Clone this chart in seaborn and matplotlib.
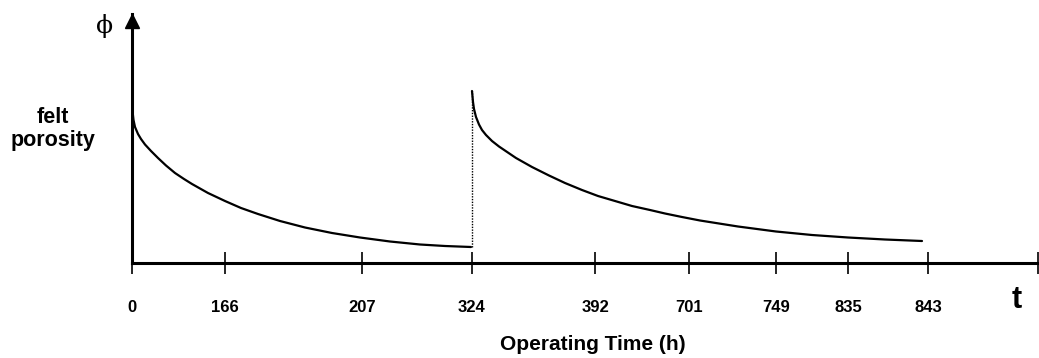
import matplotlib
matplotlib.use("Agg")
import matplotlib.pyplot as plt
import seaborn as sns
import pandas as pd

sns.set_theme(style="white")
plt.rcParams["font.family"] = ["Liberation Sans", "DejaVu Sans"]
plt.rcParams["text.color"] = "black"
plt.rcParams["xtick.color"] = "black"

# Schematic time axis: tick positions along the axis and the hours they stand for
tick_pos = [0, 93, 230, 340, 463, 557, 644, 716, 796]
tick_labels = ["0", "166", "207", "324", "392", "701", "749", "835", "843"]
axis_end = 906
phi_top = 249

# First felt run: porosity falls from the fresh-felt value
run1_t = [0.5, 1.5, 3, 6, 9, 13, 19, 26, 34, 43, 52, 60, 76, 93, 109, 126, 148, 173,
          200, 228, 258, 288, 313, 339]
run1_phi = [152, 143, 136, 129, 124, 118.5, 112, 105, 97.5, 90, 84, 79, 70, 62, 55, 49, 42, 35.5,
            30, 25.5, 21.5, 18.5, 17, 16]

# Second run after the felt change at 324 h
run2_t = [340, 341, 342, 344, 347, 350, 354, 360, 367, 384, 400, 417, 433, 450, 466, 483, 500, 518,
          533, 550, 568, 606, 644, 680, 716, 753, 790]
run2_phi = [172, 161, 154, 146, 138.5, 133, 128, 122, 116.5, 105, 96, 87.5, 80, 73, 67, 62, 57, 53,
            49.5, 46, 42.5, 36.5, 31.5, 28, 25.5, 23.5, 22]

df1 = pd.DataFrame({"t": run1_t, "phi": run1_phi})
df2 = pd.DataFrame({"t": run2_t, "phi": run2_phi})

fig = plt.figure(figsize=(10.39, 3.58), dpi=100)
ax = fig.add_axes([132 / 1039, 95 / 358, 906 / 1039, 249 / 358])

sns.lineplot(data=df1, x="t", y="phi", ax=ax, color="black", lw=1.6, sort=False)
sns.lineplot(data=df2, x="t", y="phi", ax=ax, color="black", lw=1.6, sort=False)

# Felt replacement marker
ax.plot([run2_t[0], run2_t[0]], [run1_phi[-1], run2_phi[0]], color="black", lw=1.0, ls=(0, (1, 1)))

ax.set_xlim(0, axis_end)
ax.set_ylim(0, phi_top)

for s in ["top", "right"]:
    ax.spines[s].set_visible(False)
for s in ["left", "bottom"]:
    ax.spines[s].set_linewidth(2.2)
    ax.spines[s].set_color("black")

ax.set_yticks([])
ax.set_xticks(tick_pos + [axis_end])
ax.set_xticklabels(tick_labels + [""], fontsize=12, fontweight="bold")
ax.tick_params(axis="x", bottom=True, direction="inout", length=16, width=1.2,
               color="black", labelcolor="black", pad=19)
ax.set_xlabel("")
ax.set_ylabel("")

# Arrow head on the phi axis
ax.plot([0], [phi_top - 6.5], marker="^", color="black", markersize=10.5, clip_on=False)

fig.text(105 / 1039, 1 - 26 / 358, "ϕ", fontsize=18, family=["DejaVu Serif"], ha="center", va="center")
fig.text(53 / 1039, 1 - 129 / 358, "felt\nporosity", fontsize=15.5, fontweight="bold",
         ha="center", va="center", linespacing=1.15)
fig.text(1017 / 1039, 1 - 300 / 358, "t", fontsize=22, fontweight="bold", ha="center", va="center")
fig.text(593 / 1039, 1 - 345 / 358, "Operating Time (h)", fontsize=15, fontweight="bold",
         ha="center", va="center")

fig.savefig("out.png", dpi=100)
